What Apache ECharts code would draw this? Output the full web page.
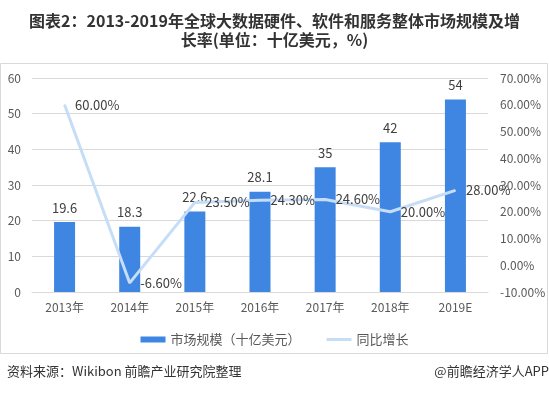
<!DOCTYPE html>
<html><head><meta charset="utf-8">
<script src="https://cdn.jsdelivr.net/npm/echarts@6/dist/echarts.min.js"></script>
<style>html,body{margin:0;padding:0;background:#fff}#c{width:549px;height:394px}</style>
</head><body><div id="c"></div>
<script>
const categories = ['2013年','2014年','2015年','2016年','2017年','2018年','2019E'];
const marketSize = [19.6, 18.3, 22.6, 28.1, 35, 42, 54];
const growth = [60.00, -6.60, 23.50, 24.30, 24.60, 20.00, 28.00];
const titleText = '图表2：2013-2019年全球大数据硬件、软件和服务整体市场规模及增\n长率(单位：十亿美元，%)';
const sourceText = '资料来源：Wikibon 前瞻产业研究院整理';
const creditText = '@前瞻经济学人APP';

const chart = echarts.init(document.getElementById('c'));
const font = 'Microsoft YaHei, "Noto Sans CJK SC", sans-serif';
chart.setOption({
  animation: false,
  textStyle: {fontFamily: font},
  title: {
    text: titleText, left: 'center', top: 6,
    textStyle: {fontSize: 16, fontWeight: 'bold', color: '#333', lineHeight: 19, fontFamily: font}
  },
  graphic: [
    {type: 'rect', shape: {x: 0.5, y: 63.5, width: 547, height: 290}, style: {fill: 'none', stroke: '#d9d9d9', lineWidth: 1}, z: -1},
    {type: 'text', left: 7, top: 365, style: {text: sourceText, fontSize: 13, fill: '#333', fontFamily: font}},
    {type: 'text', right: 0, top: 365, style: {text: creditText, fontSize: 13, fill: '#333', fontFamily: font}}
  ],
  grid: {left: 32, right: 61, top: 78, bottom: 102},
  legend: {
    top: 328, left: 'center', itemGap: 26, itemWidth: 25, itemHeight: 6,
    textStyle: {fontSize: 13, color: '#595959'},
    data: [
      {name: '市场规模（十亿美元）', icon: 'rect'},
      {name: '同比增长', icon: 'path://M0,0 L25,0 L25,3 L0,3 Z'}
    ]
  },
  xAxis: {
    type: 'category', data: categories,
    axisLine: {lineStyle: {color: '#d9d9d9'}}, axisTick: {show: false},
    axisLabel: {color: '#595959', fontSize: 12, margin: 9}
  },
  yAxis: [
    {type: 'value', min: 0, max: 60, interval: 10,
     axisLine: {show: false}, axisTick: {show: false},
     axisLabel: {color: '#595959', fontSize: 12, margin: 11},
     splitLine: {lineStyle: {color: '#d9d9d9'}}},
    {type: 'value', min: -10, max: 70, interval: 10,
     axisLine: {show: false}, axisTick: {show: false},
     axisLabel: {color: '#595959', fontSize: 12, margin: 12, formatter: v => v.toFixed(2) + '%'},
     splitLine: {show: false}}
  ],
  series: [
    {name: '市场规模（十亿美元）', type: 'bar', data: marketSize, barWidth: 21,
     itemStyle: {color: '#3f86e2'},
     label: {show: true, position: 'top', distance: 8, color: '#404040', fontSize: 13}},
    {name: '同比增长', type: 'line', yAxisIndex: 1, data: growth,
     symbol: 'circle', symbolSize: 1, showSymbol: true,
     lineStyle: {color: '#c6ddf7', width: 3}, itemStyle: {color: '#c6ddf7'},
     label: {show: true, position: 'right', distance: 10, color: '#404040', fontSize: 13,
       formatter: p => p.value.toFixed(2) + '%'}
    }
  ]
});
</script></body></html>
